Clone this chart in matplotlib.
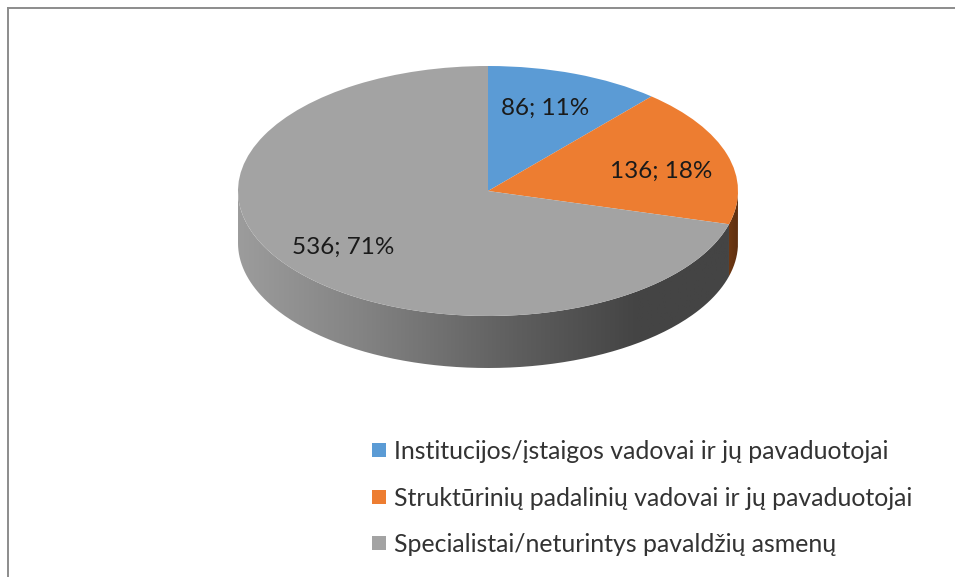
import numpy as np
import matplotlib
matplotlib.use('Agg')
import matplotlib.pyplot as plt
from matplotlib.colors import LinearSegmentedColormap
from matplotlib.lines import Line2D
from matplotlib.patches import PathPatch
from matplotlib.path import Path

categories = ['Institucijos/įstaigos vadovai ir jų pavaduotojai',
              'Struktūrinių padalinių vadovai ir jų pavaduotojai',
              'Specialistai/neturintys pavaldžių asmenų']
values = [86, 136, 536]
colors = ['#5b9bd5', '#ed7d31', '#a3a3a3']
percents = [11, 18, 71]

plt.rcParams['font.family'] = ['Lato', 'DejaVu Sans']
W, H = 955, 577
fig = plt.figure(figsize=(W / 100, H / 100), dpi=100)

# pie box in pixels, one y unit is half of one x unit on screen
cx, cy, rx, ry, depth = 488, 191, 250, 125, 52
ax = fig.add_axes([(cx - rx - 2) / W, 1 - (cy + ry + depth + 2) / H,
                   (2 * rx + 4) / W, (2 * ry + depth + 4) / H])
wedges, _ = ax.pie(values, colors=colors, startangle=90, counterclock=False,
                   radius=1, wedgeprops={'linewidth': 0})
ax.set_aspect('auto')
d = depth / ry


def side_path(a1, a2):
    # a1, a2 in degrees, normal math angle
    t = np.radians(np.linspace(a1, a2, 200))
    top = np.column_stack([np.cos(t), np.sin(t)])
    bottom = (top - [0, d])[::-1]
    return Path(np.vstack([top, bottom, top[:1]]))


# angle where the grey slice starts, going clockwise from 12 o'clock
split = 90 - 360 * (values[0] + values[1]) / sum(values)

gray_side = LinearSegmentedColormap.from_list(
    'gray_side', [(0, '#9c9c9c'), (0.25, '#838383'), (0.55, '#5f5f5f'),
                  (0.8, '#444444'), (1, '#444444')])
orange_side = LinearSegmentedColormap.from_list(
    'orange_side', ['#6e3813', '#5c2e10'])

grad = np.linspace(0, 1, 256).reshape(1, -1)
for a1, a2, cmap in [(180, 360 + split, gray_side), (split, 0, orange_side)]:
    pts = side_path(a1, a2)
    if cmap is gray_side:
        ext = (-1, 1, -1 - d, 1)
    else:
        ext = (np.cos(np.radians(split)), 1, -1 - d, 1)
    im = ax.imshow(grad, extent=ext, aspect='auto', cmap=cmap, zorder=0.5)
    patch = PathPatch(pts, facecolor='none', edgecolor='none', transform=ax.transData)
    ax.add_patch(patch)
    im.set_clip_path(patch)
ax.set_xlim(-1 - 2 / rx, 1 + 2 / rx)
ax.set_ylim(-1 - d - 2 / ry, 1 + 2 / ry)
ax.axis('off')

label_pos = [(545, 108), (661, 171), (343, 247)]
for v, p, (x, y) in zip(values, percents, label_pos):
    fig.text(x / W, 1 - y / H, f'{v}; {p}%', ha='center', va='center',
             fontsize=17.5, color='#1a1a1a')

# legend
for i, (name, c) in enumerate(zip(categories, colors)):
    y = 450 + i * 46.5
    fig.patches.append(plt.Rectangle((372 / W, 1 - (y + 7) / H), 14 / W, 14 / H,
                                     transform=fig.transFigure, facecolor=c,
                                     edgecolor='none', figure=fig))
    fig.text(394 / W, 1 - (y + 1.5) / H, name, ha='left', va='center', fontsize=17.9,
             color='#333333')

# screenshot border on top and left
fig.add_artist(Line2D([7.5 / W, 1], [1 - 7.5 / H, 1 - 7.5 / H], color='#8c8c8c', lw=1.4))
fig.add_artist(Line2D([7.5 / W, 7.5 / W], [0, 1 - 7.5 / H], color='#8c8c8c', lw=1.4))

fig.savefig('out.png', dpi=100)
